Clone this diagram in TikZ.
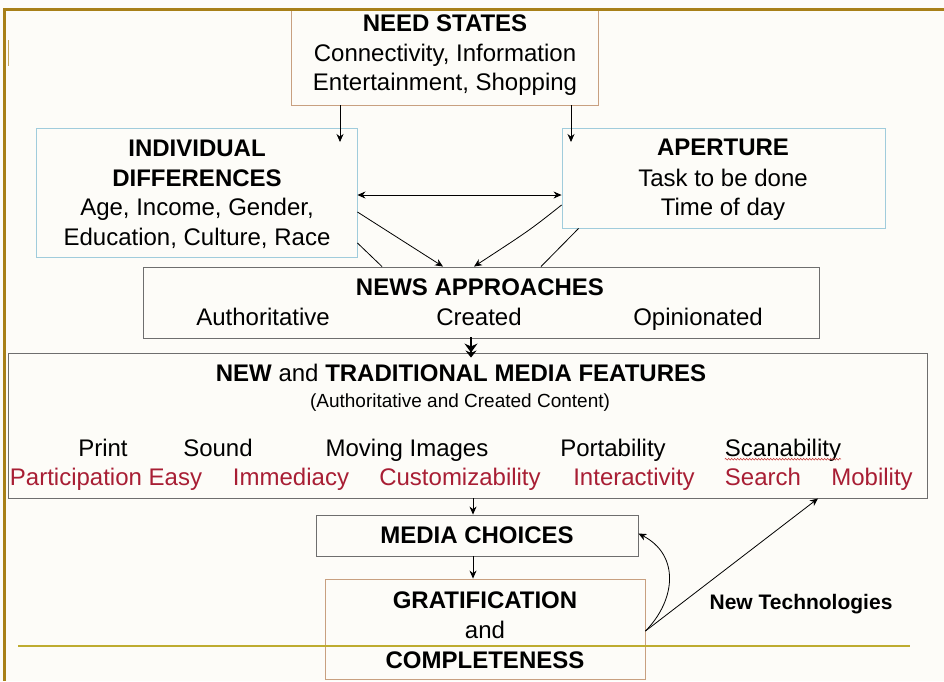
\documentclass[tikz,border=0pt]{standalone}
\usepackage{fontspec}
\setmainfont{Liberation Sans}
\usetikzlibrary{arrows.meta,decorations.pathmorphing}
\definecolor{framegold}{RGB}{168,128,24}
\definecolor{olive}{RGB}{190,172,48}
\definecolor{tanb}{RGB}{200,160,128}
\definecolor{blueb}{RGB}{160,204,220}
\definecolor{grayb}{RGB}{110,110,110}
\definecolor{redt}{RGB}{168,30,52}
\definecolor{bgc}{RGB}{253,252,248}
\tikzset{
  box/.style={draw=#1, line width=0.9pt, rectangle, inner sep=0pt},
  arr/.style={-{Stealth[length=8pt,width=7pt]}, line width=0.8pt},
  ln/.style={line width=0.8pt},
  txt/.style={font=\fontsize{24}{29}\selectfont, inner sep=0pt, text height=17pt, text depth=0pt},
  btxt/.style={txt, font=\fontsize{24}{29}\selectfont\bfseries},
  rtxt/.style={txt, text=redt},
  stxt/.style={font=\fontsize{19}{23}\selectfont, inner sep=0pt, text height=13.5pt, text depth=0pt},
}
\begin{document}
\begin{tikzpicture}[x=1pt,y=-1pt]
\useasboundingbox (0,0) rectangle (944,681);
\fill[bgc] (0,0) rectangle (944,681);

% boxes
\node[box=tanb, minimum width=307pt, minimum height=97pt] (need) at (444.5,56.5) {};
\node[box=blueb, minimum width=321pt, minimum height=129pt] (id) at (196.5,192.5) {};
\node[box=blueb, minimum width=323pt, minimum height=100pt] (ap) at (723.5,178) {};
\node[box=grayb, minimum width=676pt, minimum height=71pt] (news) at (481,302.5) {};
\node[box=grayb, minimum width=919pt, minimum height=145pt] (feat) at (467.5,425.5) {};
\node[box=grayb, minimum width=322pt, minimum height=41pt] (media) at (477,535.5) {};
\node[box=tanb, minimum width=320pt, minimum height=100pt] (grat) at (485,629) {};

% texts: need states
\node[btxt] (t1) at (445,23) {NEED STATES};
\node[txt] (t2) at (445,53) {Connectivity, Information};
\node[txt] (t3) at (445,82) {Entertainment, Shopping};
% individual differences
\node[btxt] (t4) at (197,148) {INDIVIDUAL};
\node[btxt] (t5) at (197,178) {DIFFERENCES};
\node[txt] (t6) at (197,207) {Age, Income, Gender,};
\node[txt] (t7) at (197,237) {Education, Culture, Race};
% aperture
\node[btxt] (t8) at (723,147) {APERTURE};
\node[txt] (t9) at (723,178) {Task to be done};
\node[txt] (t10) at (723,207) {Time of day};
% news approaches
\node[btxt] (t11) at (480,287) {NEWS APPROACHES};
\node[txt] (t12) at (263,317) {Authoritative};
\node[txt] (t13) at (479,317) {Created};
\node[txt] (t14) at (698,317) {Opinionated};
% features
\node[txt] (t15) at (461,373) {\textbf{NEW} and \textbf{TRADITIONAL MEDIA FEATURES}};
\node[stxt] (t16) at (460,401) {(Authoritative and Created Content)};
\node[txt] (p1) at (103,448) {Print};
\node[txt] (p2) at (218,448) {Sound};
\node[txt] (p3) at (407,448) {Moving Images};
\node[txt] (p4) at (613,448) {Portability};
\node[txt] (p5) at (783,448) {Scanability};
\node[rtxt] (r1) at (106,477) {Participation Easy};
\node[rtxt] (r2) at (291,477) {Immediacy};
\node[rtxt] (r3) at (460,477) {Customizability};
\node[rtxt] (r4) at (634,477) {Interactivity};
\node[rtxt] (r5) at (763,477) {Search};
\node[rtxt] (r6) at (872,477) {Mobility};
\draw[red!55!gray, line width=0.5pt, decorate, decoration={snake, amplitude=0.9pt, segment length=3pt}]
  ([yshift=-2.5pt]p5.south west) -- ([yshift=-2.5pt]p5.south east);
% media choices, gratification
\node[btxt] (t17) at (477,535) {MEDIA CHOICES};
\node[btxt] (t18) at (485,600) {GRATIFICATION};
\node[txt] (t19) at (485,630) {and};
\node[btxt] (t20) at (485,660) {COMPLETENESS};
\node[font=\fontsize{21}{25}\selectfont\bfseries, inner sep=0pt, text height=15pt, text depth=0pt] (nt) at (801,602) {New Technologies};

% connectors
\coordinate (a1) at (340,142);
\coordinate (a2) at (571,142);
\draw[arr] (need.south -| a1) -- (a1);
\draw[arr] (need.south -| a2) -- (a2);
\draw[{Stealth[length=8pt,width=7pt]}-{Stealth[length=8pt,width=7pt]}, line width=0.8pt]
  (id.east |- 0,195) -- (ap.west |- 0,195);
\draw[arr] (id.east |- 0,212) -- (news.north -| 443,0);
\draw[ln] (id.east |- 0,243) -- (news.north -| 382,0);
\draw[arr] (ap.west |- 0,205) .. controls (530,230) .. (news.north -| 474,0);
\draw[ln] ([xshift=17pt]ap.south west) -- (news.north -| 541,0);
\draw[-{Stealth[length=9pt,width=13pt]}, line width=1.2pt] (news.south -| 471,0) -- (feat.north -| 471,0);
\draw[-{Stealth[length=7pt,width=11pt]}, line width=1.2pt] ([yshift=1pt]news.south -| 471,0) -- ([yshift=-5pt]feat.north -| 471,0);
\draw[arr] (feat.south -| 473,0) -- (media.north -| 473,0);
\draw[arr] (media.south -| 473,0) -- (grat.north -| 473,0);
\coordinate (g1) at (grat.east |- 0,631);
\draw[arr] (g1) .. controls (676,600) and (680,555) .. ([yshift=2pt]media.east);
\draw[arr] (g1) -- (feat.south -| 818,0);

% frame
\draw[olive, line width=2.5pt] (18,646) -- (910,646);
\draw[framegold, line width=3pt] (3,9.5) -- (944,9.5);
\draw[framegold, line width=2.5pt] (4.5,8) -- (4.5,681);
\draw[framegold!70, line width=1.5pt] (8.5,40) -- (8.5,66);
\end{tikzpicture}
\end{document}
